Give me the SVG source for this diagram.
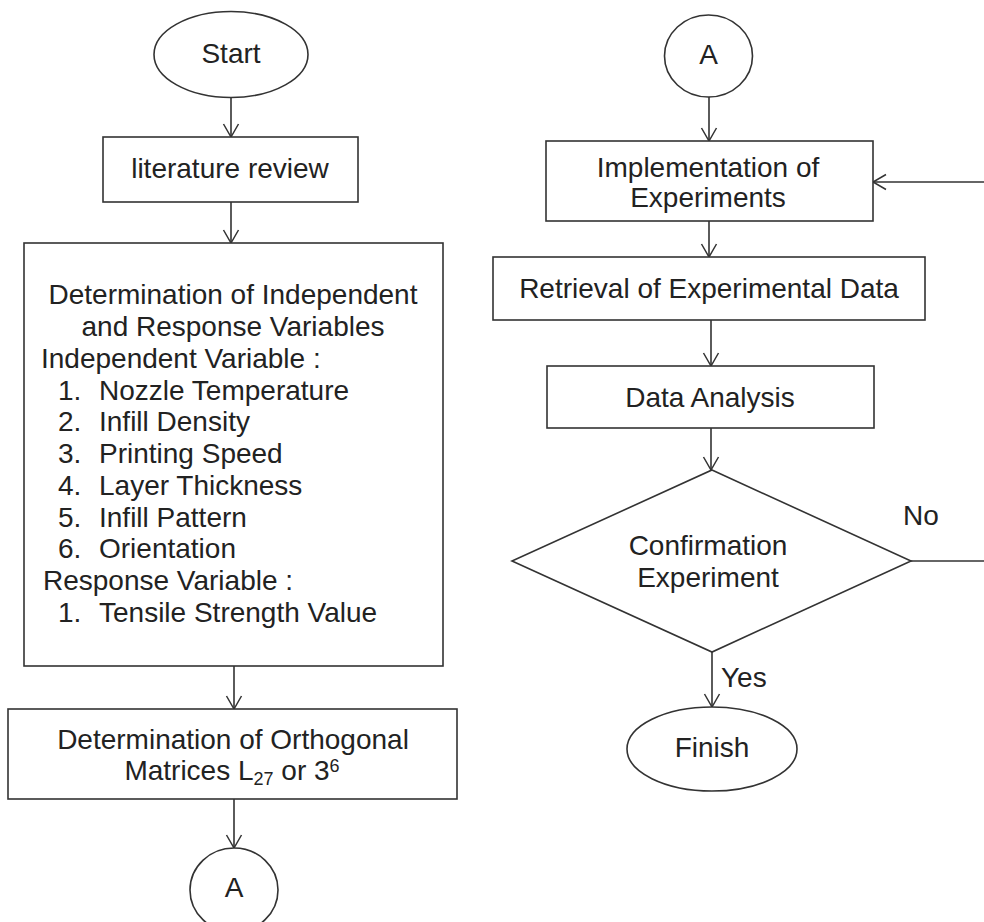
<svg xmlns="http://www.w3.org/2000/svg" width="984" height="922" viewBox="0 0 984 922">
<defs>
<marker id="arr" viewBox="-14 -9 16 18" markerWidth="16" markerHeight="18" refX="0" refY="0" orient="auto" markerUnits="userSpaceOnUse">
<path d="M-13,-7.5 L0,0 L-13,7.5" fill="none" stroke="#333" stroke-width="1.5"/>
</marker>
<style>
.s{fill:#fff;stroke:#333;stroke-width:1.6}
.t{font-family:"Liberation Sans",Arial,sans-serif;font-size:28px;fill:#222}
.m{text-anchor:middle}
.c{fill:none;stroke:#333;stroke-width:1.6}
</style>
</defs>
<rect width="984" height="922" fill="#fff"/>
<g id="connectors">
<line class="c" x1="231" y1="97" x2="231" y2="137" marker-end="url(#arr)"/>
<line class="c" x1="231" y1="202" x2="231" y2="243" marker-end="url(#arr)"/>
<line class="c" x1="234" y1="666" x2="234" y2="709" marker-end="url(#arr)"/>
<line class="c" x1="234" y1="799" x2="234" y2="848" marker-end="url(#arr)"/>
<line class="c" x1="709" y1="97" x2="709" y2="141" marker-end="url(#arr)"/>
<line class="c" x1="709" y1="221" x2="709" y2="257" marker-end="url(#arr)"/>
<line class="c" x1="711" y1="320" x2="711" y2="366" marker-end="url(#arr)"/>
<line class="c" x1="711" y1="428" x2="711" y2="470" marker-end="url(#arr)"/>
<line class="c" x1="712" y1="652" x2="712" y2="707" marker-end="url(#arr)"/>
<line class="c" x1="911" y1="561" x2="984" y2="561"/>
<line class="c" x1="984" y1="182" x2="873" y2="182" marker-end="url(#arr)"/>
<text class="t" x="903" y="525">No</text>
<text class="t" x="721" y="687">Yes</text>
</g>
<g id="start">
<ellipse class="s" cx="231" cy="54.5" rx="77" ry="43"/>
<text class="t m" x="231" y="63">Start</text>
</g>
<g id="literature">
<rect class="s" x="103" y="137" width="255" height="65"/>
<text class="t m" x="230" y="178">literature review</text>
</g>
<g id="variables">
<rect class="s" x="24" y="243" width="419" height="423"/>
<text class="t m" x="233" y="304">Determination of Independent</text>
<text class="t m" x="233" y="336">and Response Variables</text>
<text class="t" x="41" y="368">Independent Variable :</text>
<text class="t" x="58" y="400">1.</text><text class="t" x="99" y="400">Nozzle Temperature</text>
<text class="t" x="58" y="431">2.</text><text class="t" x="99" y="431">Infill Density</text>
<text class="t" x="58" y="463">3.</text><text class="t" x="99" y="463">Printing Speed</text>
<text class="t" x="58" y="495">4.</text><text class="t" x="99" y="495">Layer Thickness</text>
<text class="t" x="58" y="527">5.</text><text class="t" x="99" y="527">Infill Pattern</text>
<text class="t" x="58" y="558">6.</text><text class="t" x="99" y="558">Orientation</text>
<text class="t" x="43" y="590">Response Variable :</text>
<text class="t" x="58" y="622">1.</text><text class="t" x="99" y="622">Tensile Strength Value</text>
</g>
<g id="orthogonal">
<rect class="s" x="8" y="709" width="449" height="90"/>
<text class="t m" x="233" y="749">Determination of  Orthogonal</text>
<text class="t m" x="232" y="780">Matrices L<tspan font-size="18" dy="5">27</tspan><tspan dy="-5"> or 3</tspan><tspan font-size="18" dy="-8">6</tspan></text>
</g>
<g id="connector-a-out">
<ellipse class="s" cx="234" cy="890" rx="44" ry="42"/>
<text class="t m" x="234" y="897">A</text>
</g>
<g id="connector-a-in">
<ellipse class="s" cx="708.5" cy="56" rx="44" ry="41"/>
<text class="t m" x="708.5" y="64">A</text>
</g>
<g id="implementation">
<rect class="s" x="546" y="141" width="327" height="80"/>
<text class="t m" x="708" y="177">Implementation of</text>
<text class="t m" x="708" y="207">Experiments</text>
</g>
<g id="retrieval">
<rect class="s" x="493" y="257" width="432" height="63"/>
<text class="t m" x="709" y="298">Retrieval of Experimental Data</text>
</g>
<g id="analysis">
<rect class="s" x="547" y="366" width="327" height="62"/>
<text class="t m" x="710" y="407">Data Analysis</text>
</g>
<g id="confirmation">
<polygon class="s" points="712,470 911,561 712,652 512,561"/>
<text class="t m" x="708" y="555">Confirmation</text>
<text class="t m" x="708" y="587">Experiment</text>
</g>
<g id="finish">
<ellipse class="s" cx="712" cy="749" rx="85" ry="42"/>
<text class="t m" x="712" y="757">Finish</text>
</g>
</svg>
